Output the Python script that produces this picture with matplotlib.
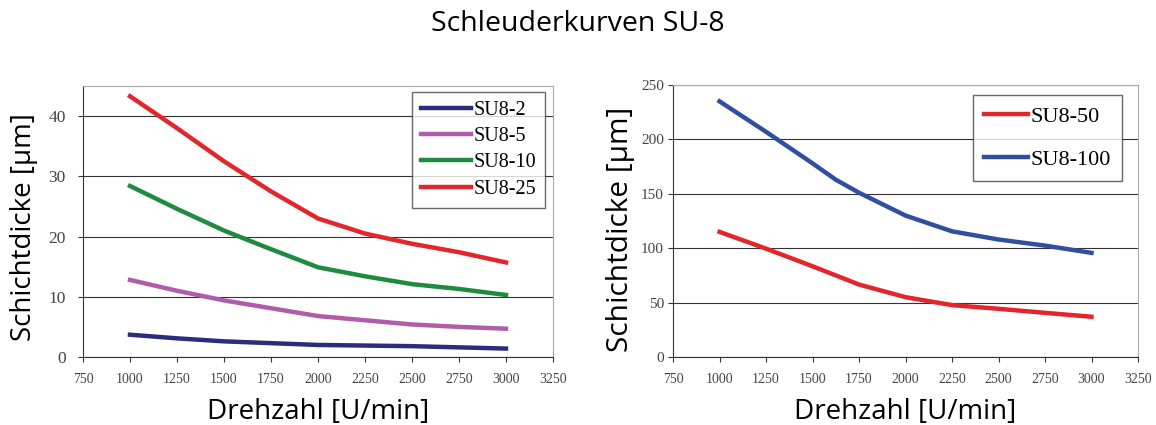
import matplotlib.pyplot as plt
from matplotlib.ticker import MultipleLocator

# Drehzahl [U/min]
rpm_left = [1000, 1250, 1500, 1750, 2000, 2250, 2500, 2750, 3000]
su8_2 = [3.7, 3.1, 2.6, 2.3, 2.0, 1.9, 1.8, 1.6, 1.4]
su8_5 = [12.8, 11.0, 9.4, 8.1, 6.8, 6.1, 5.4, 5.0, 4.7]
su8_10 = [28.4, 24.6, 21.0, 17.9, 14.9, 13.4, 12.1, 11.3, 10.3]
su8_25 = [43.3, 38.0, 32.5, 27.5, 23.0, 20.5, 18.8, 17.4, 15.7]

rpm_right = [1000, 1250, 1500, 1625, 1750, 2000, 2250, 2500, 2750, 3000]
su8_50 = [115, 99.6, 83.4, 75.0, 66.6, 55, 47.7, 44.3, 40.6, 37]
su8_100 = [235, 207, 178, 163, 151, 130, 115.5, 108, 102.4, 95.7]

left_names = ["SU8-2", "SU8-5", "SU8-10", "SU8-25"]
right_names = ["SU8-50", "SU8-100"]

sans = "Open Sans"
serif = "Liberation Serif"

fig = plt.figure(figsize=(11.56, 4.25), dpi=100)
fig.text(0.5, 0.943, "Schleuderkurven SU-8", ha="center", va="center",
         fontsize=20.5, family=sans)

ax1 = fig.add_axes([83/1156, 1-357/425, 470/1156, 271/425])
ax2 = fig.add_axes([673/1156, 1-357/425, 465/1156, 272/425])

lw = 3.2
ax1.plot(rpm_left, su8_2, color="#2b2c7c", lw=lw, label=left_names[0])
ax1.plot(rpm_left, su8_5, color="#b15ca8", lw=lw, label=left_names[1])
ax1.plot(rpm_left, su8_10, color="#1f8b3f", lw=lw, label=left_names[2])
ax1.plot(rpm_left, su8_25, color="#e2262b", lw=lw, label=left_names[3])
ax1.set_ylim(0, 45)
ax1.yaxis.set_major_locator(MultipleLocator(10))

ax2.plot(rpm_right, su8_50, color="#e2262b", lw=lw, label=right_names[0])
ax2.plot(rpm_right, su8_100, color="#2f4f9f", lw=lw, label=right_names[1])
ax2.set_ylim(0, 250)
ax2.yaxis.set_major_locator(MultipleLocator(50))

for ax, ysize, ypad, ylsize in ((ax1, 12.5, 9, 20), (ax2, 11, 3, 21.5)):
    ax.set_xlim(750, 3250)
    ax.xaxis.set_major_locator(MultipleLocator(250))
    ax.grid(True, axis="y", color="#333333", lw=0.8)
    ax.set_axisbelow(True)
    for s in ("top", "right"):
        ax.spines[s].set_color("#aaaaaa")
    for s in ("left", "bottom"):
        ax.spines[s].set_color("#333333")
    ax.tick_params(axis="x", labelsize=10, labelcolor="#444444", length=3.5,
                   pad=8, color="#333333")
    ax.tick_params(axis="y", labelsize=ysize, labelcolor="#444444", length=3.5,
                   pad=ypad, color="#333333")
    for lab in ax.get_xticklabels() + ax.get_yticklabels():
        lab.set_family(serif)
    ax.set_xlabel("Drehzahl [U/min]", fontsize=20, family=sans, labelpad=9)
    ax.set_ylabel("Schichtdicke [µm]", fontsize=ylsize, family=sans)

ax1.yaxis.set_label_coords(-0.096, 0.48)
ax2.yaxis.set_label_coords(-0.082, 0.47)

leg1 = ax1.legend(loc="upper right", bbox_to_anchor=(0.983, 0.978),
                  prop={"family": serif, "size": 14.5}, frameon=True,
                  fancybox=False, edgecolor="#444444", handlelength=2.5,
                  handletextpad=0.1, labelspacing=0.35, borderpad=0.45,
                  borderaxespad=0)
leg1.get_frame().set_linewidth(1.0)
leg2 = ax2.legend(loc="upper right", bbox_to_anchor=(0.966, 0.963),
                  prop={"family": serif, "size": 16}, frameon=True,
                  fancybox=False, edgecolor="#444444", handlelength=2.0,
                  handletextpad=0.1, labelspacing=1.0, borderpad=0.5,
                  borderaxespad=0)
leg2.get_frame().set_linewidth(1.0)

fig.savefig("out.png", dpi=100)
